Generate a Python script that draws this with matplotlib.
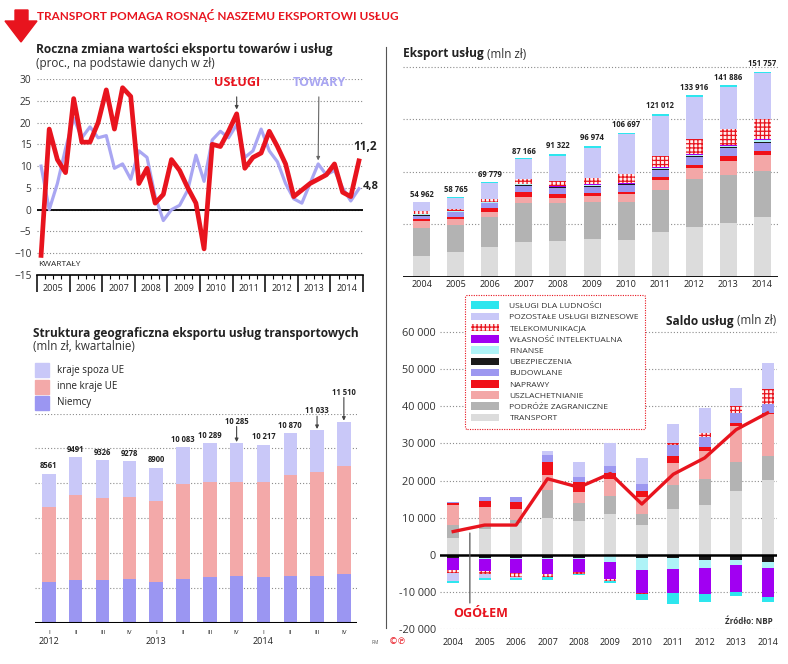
import numpy as np
import matplotlib
matplotlib.use('Agg')
import matplotlib.pyplot as plt
from matplotlib.patches import Patch, Polygon

plt.rcParams['font.family'] = ['Open Sans', 'DejaVu Sans']
plt.rcParams['hatch.linewidth'] = 0.9

# ---------------- data ----------------
# roczna zmiana eksportu, kwartalnie 2005 I - 2014 IV (proc.)
q_years = ['2005', '2006', '2007', '2008', '2009', '2010', '2011', '2012', '2013', '2014']
uslugi = [-10.5, 18.5, 11.5, 8.5, 25.5, 15.5, 15.5, 20, 27.5, 18.5,
          28, 26, 6, 9.5, 1.5, 3.5, 11.5, 9, 5, 1.5,
          -9, 15, 14.5, 18, 22, 9.5, 12, 13, 18, 14.5,
          10.5, 3, 4.5, 6, 7, 8, 10.5, 4, 3, 11.2]
towary = [10, 0, 6, 14, 21, 16.5, 19, 16.5, 17, 9.5,
          10.5, 7, 13.5, 12, 3, -2.5, 0, 1, 4.5, 12.5,
          6.5, 16, 18, 16.5, 19.5, 12, 13.5, 18.5, 13.5, 11,
          6, 2.5, 1.5, 6, 10.5, 8, 9, 5, 2, 4.8]

# eksport uslug (mln zl), 2004-2014
years = ['2004', '2005', '2006', '2007', '2008', '2009', '2010', '2011', '2012', '2013', '2014']
categories = ['TRANSPORT', 'PODRÓŻE ZAGRANICZNE', 'USZLACHETNIANIE', 'NAPRAWY', 'BUDOWLANE',
              'UBEZPIECZENIA', 'FINANSE', 'WŁASNOŚĆ INTELEKTUALNA', 'TELEKOMUNIKACJA',
              'POZOSTAŁE USŁUGI BIZNESOWE', 'USŁUGI DLA LUDNOŚCI']
exp_transport = [15300, 18000, 21900, 25900, 26400, 27600, 27100, 33300, 37000, 39900, 44400]
exp_podroze = [20500, 20200, 22400, 28800, 28300, 27400, 28300, 30800, 35000, 35200, 33800]
exp_uszl = [5700, 4200, 3700, 3900, 3200, 4700, 5700, 7400, 8600, 10600, 11800]
exp_naprawy = [1200, 1700, 2500, 3900, 3200, 2500, 1700, 2500, 2000, 3500, 3200]
exp_budowlane = [2500, 3500, 3700, 4900, 4200, 4400, 4700, 4900, 5700, 5700, 5400]
exp_ubezp = [500, 500, 500, 600, 700, 800, 800, 1000, 1000, 1200, 1200]
exp_finanse = [300, 300, 300, 400, 400, 500, 600, 700, 800, 800, 1000]
exp_wlasnosc = [500, 300, 300, 500, 400, 500, 600, 800, 800, 800, 800]
exp_telekom = [2200, 1700, 2200, 3000, 3700, 4400, 6200, 7900, 10600, 11600, 14800]
exp_pozostale = [6200, 8100, 11800, 14800, 19000, 22700, 29600, 29800, 31300, 31100, 34000]
exp_ludnosc = [500, 500, 1000, 1000, 1200, 1200, 1200, 1500, 1500, 1500, 1200]
exp_totals = [54962, 58765, 69779, 87166, 91322, 96974, 106697, 121012, 133916, 141886, 151757]

# saldo uslug (mln zl), 2004-2014
sal_transport = [4500, 7000, 8500, 10000, 9100, 10900, 8100, 12400, 13400, 17200, 20100]
sal_podroze = [3600, 1000, 900, 7600, 5000, 5000, 2900, 6400, 6900, 7700, 6400]
sal_uszl = [5400, 5000, 3000, 3800, 2900, 4400, 4700, 6000, 7600, 9800, 11300]
sal_naprawy = [450, 1600, 1800, 3700, 2700, 1800, 1600, 1800, 1200, 700, 300]
sal_budowlane = [350, 1100, 1500, 1800, 1300, 1800, 1700, 3000, 2700, 2700, 2600]
sal_ubezp = [-700, -700, -900, -700, -700, -400, -900, -700, -1300, -1300, -1800]
sal_finanse = [-200, -300, -200, -300, -300, -1600, -3000, -3100, -2200, -1300, -1600]
sal_wlasnosc = [-3100, -3300, -3800, -4000, -3600, -4500, -6300, -6400, -6900, -7300, -8000]
sal_telekom = [-900, -900, -1000, -900, -500, -400, -300, 400, 1100, 2000, 4000]
sal_pozostale = [-2000, -900, -400, 1100, 4000, 6300, 7200, 5200, 6500, 4900, 6800]
sal_ludnosc = [-600, -700, -300, -800, -400, -700, -1600, -2900, -2200, -1000, -1300]
ogolem = [6300, 8050, 8050, 20500, 18200, 21900, 13700, 21700, 26100, 33700, 38200]

# struktura geograficzna eksportu uslug transportowych (mln zl, kwartalnie)
geo_quarters = ['I', 'II', 'III', 'IV'] * 3
geo_years = ['2012', '2013', '2014']
niemcy = [2350, 2480, 2460, 2500, 2330, 2500, 2620, 2710, 2620, 2710, 2710, 2830]
inne_ue = [4280, 4840, 4700, 4700, 4680, 5450, 5480, 5390, 5460, 5790, 5920, 6190]
spoza_ue = [1930, 2170, 2170, 2080, 1890, 2130, 2190, 2190, 2140, 2370, 2400, 2490]
geo_totals = [8561, 9491, 9326, 9278, 8900, 10083, 10289, 10285, 10217, 10870, 11033, 11510]

# ---------------- style ----------------
W, H = 788, 664
RED = '#e8141e'
LAV = '#a9a6f2'
GRIDC = '#8c8c8c'
DOT = (0, (1, 1.8))
TXT = '#222222'
cat_colors = ['#dcdcdc', '#b3b3b3', '#f3a7a7', '#f01018', '#9d98f0', '#1a1a1a',
              '#aef3f7', '#a100f2', '#fff0f0', '#c9c8f8', '#2ee6ee']
cat_hatch = [None] * 8 + ['++++', None, None]
TITLE_FS = 8.6
SUB_FS = 8.4

fig = plt.figure(figsize=(W / 100, H / 100), dpi=100)
fig.patch.set_facecolor('white')


def px_axes(l, t, r, b):
    return fig.add_axes([l / W, 1 - b / H, (r - l) / W, (b - t) / H])


def ftext(x, y, s, **kw):
    return fig.text(x / W, 1 - y / H, s, **kw)


def fmt(v):
    return f'{v:,}'.replace(',', ' ')


def stack(ax, x, series, width):
    pos = np.zeros(len(x))
    neg = np.zeros(len(x))
    for vals, c, h in zip(series, cat_colors, cat_hatch):
        v = np.asarray(vals, float)
        bottom = np.where(v >= 0, pos, neg)
        if h:
            ax.bar(x, v, width, bottom=bottom, color=c, edgecolor=RED, hatch=h, lw=0, zorder=2)
        else:
            ax.bar(x, v, width, bottom=bottom, color=c, lw=0, zorder=2)
        pos += np.clip(v, 0, None)
        neg += np.clip(v, None, 0)


renderer = fig.canvas.get_renderer()

# ---------------- header ----------------
fig.patches.append(Polygon([(15 / W, 1 - 10 / H), (28 / W, 1 - 10 / H), (28 / W, 1 - 21 / H),
                            (37 / W, 1 - 21 / H), (21 / W, 1 - 42 / H), (5 / W, 1 - 21 / H),
                            (15 / W, 1 - 21 / H)], closed=True, color=RED,
                           transform=fig.transFigure))
ftext(37, 16, 'TRANSPORT POMAGA ROSNĄĆ NASZEMU EKSPORTOWI USŁUG', color=RED,
      fontsize=8.5, fontweight='bold', va='center', family=['Lato', 'DejaVu Sans'])
fig.add_artist(plt.Line2D([386 / W, 386 / W], [1 - 47 / H, 1 - 628 / H], color='#555555', lw=0.8))

# ---------------- line chart ----------------
ftext(36, 50, 'Roczna zmiana wartości eksportu towarów i usług', fontsize=TITLE_FS,
      fontweight='bold', va='center', color=TXT)
ftext(36, 64, '(proc., na podstawie danych w zł)', fontsize=SUB_FS, va='center', color='#333333')

ax1 = px_axes(37, 79, 363, 275)
ax1.set_xlim(0, 40)
ax1.set_ylim(-15, 30)
xq = np.arange(len(uslugi)) + 0.5
ax1.plot(xq, towary, color=LAV, lw=2.3, zorder=3)
ax1.plot(xq, uslugi, color=RED, lw=3.4, zorder=4)
ax1.axhline(0, color='black', lw=1.3, zorder=2)
ax1.set_yticks(range(-15, 31, 5))
ax1.yaxis.grid(True, linestyle=DOT, color=GRIDC, lw=0.8)
ax1.set_axisbelow(True)
ax1.tick_params(axis='y', length=0, pad=4, labelsize=7.3, labelcolor='#333333')
for s in ['left', 'right', 'top']:
    ax1.spines[s].set_visible(False)
ax1.spines['bottom'].set_linewidth(1.2)
ax1.set_xticks(range(0, 41, 4))
ax1.set_xticks(range(0, 41), minor=True)
ax1.set_xticklabels([])
ax1.tick_params(axis='x', which='major', length=12, width=1.1, direction='out')
ax1.tick_params(axis='x', which='minor', length=3, width=0.8, direction='out')
for k, y in enumerate(q_years):
    ax1.annotate(y, xy=(4 * k + 2, 0), xycoords=('data', 'axes fraction'), xytext=(0, -10),
                 textcoords='offset points', ha='center', va='center', fontsize=6.5, color=TXT)
ax1.text(0.1, -12.7, 'KWARTAŁY', fontsize=6, color=TXT, va='center')
ax1.annotate('USŁUGI', xy=(24.5, 23), xytext=(24.5, 29.3), ha='center', va='center', color=RED,
             fontsize=9, fontweight='bold',
             arrowprops=dict(arrowstyle='-|>', color='#444444', lw=0.8, mutation_scale=5,
                             shrinkA=4, shrinkB=0))
ax1.annotate('TOWARY', xy=(34.5, 11.3), xytext=(34.6, 29.3), ha='center', va='center', color=LAV,
             fontsize=9, fontweight='bold',
             arrowprops=dict(arrowstyle='-|>', color='#666666', lw=0.8, mutation_scale=5,
                             shrinkA=4, shrinkB=0))
ax1.text(40.2, 14.4, fmt(uslugi[-1]).replace('.', ','), fontsize=8.5, fontweight='bold',
         ha='center', va='center', color=TXT)
ax1.text(40.0, 5.4, fmt(towary[-1]).replace('.', ','), fontsize=8, fontweight='bold',
         ha='left', va='center', color=TXT)

# ---------------- export chart ----------------
t = ftext(403, 54, 'Eksport usług', fontsize=TITLE_FS, fontweight='bold', va='center', color=TXT)
bb = t.get_window_extent(renderer=renderer)
ftext(bb.x1 + 3, 54, '(mln zł)', fontsize=SUB_FS, va='center', color='#333333')

exp_series = [exp_transport, exp_podroze, exp_uszl, exp_naprawy, exp_budowlane, exp_ubezp,
              exp_finanse, exp_wlasnosc, exp_telekom, exp_pozostale, exp_ludnosc]
ax2 = px_axes(403, 60.3, 778, 276.7)
xe = np.arange(len(years))
stack(ax2, xe, exp_series, 0.5)
ax2.set_xlim(-0.55, 10.46)
ax2.set_ylim(0, 160000)
ax2.set_yticks([38750, 77500, 116250, 155000])
ax2.yaxis.grid(True, linestyle=DOT, color=GRIDC, lw=0.8)
ax2.set_axisbelow(True)
ax2.tick_params(axis='y', length=0, labelleft=False)
ax2.set_xticks(xe)
ax2.set_xticklabels(years, fontsize=6.5, color=TXT)
ax2.tick_params(axis='x', length=0, pad=2.5)
for s in ax2.spines.values():
    s.set_visible(False)
ax2.axhline(0, color='black', lw=2, zorder=3)
for i, tot in enumerate(exp_totals):
    ax2.annotate(fmt(tot), xy=(i, tot), xytext=(0, 5.5), textcoords='offset points',
                 ha='center', va='center', fontsize=5.5, fontweight='bold', color=TXT)

# ---------------- geo structure chart ----------------
ftext(33, 333, 'Struktura geograficzna eksportu usług transportowych', fontsize=TITLE_FS,
      fontweight='bold', va='center', color=TXT)
ftext(33, 346, '(mln zł, kwartalnie)', fontsize=SUB_FS, va='center', color='#333333')

ax3 = px_axes(35, 413.5, 357, 623)
xg = np.arange(len(niemcy))
geo_cols = ['#9b96f2', '#f3a9a9', '#c9c8f8']
ax3.bar(xg, niemcy, 0.5, color=geo_cols[0], lw=0, zorder=2)
ax3.bar(xg, inne_ue, 0.5, bottom=niemcy, color=geo_cols[1], lw=0, zorder=2)
ax3.bar(xg, spoza_ue, 0.5, bottom=np.add(niemcy, inne_ue), color=geo_cols[2], lw=0, zorder=2)
ax3.set_xlim(-0.52, 11.49)
ax3.set_ylim(0, 12000)
ax3.set_yticks(range(2000, 12001, 2000))
ax3.yaxis.grid(True, linestyle=DOT, color=GRIDC, lw=0.8)
ax3.set_axisbelow(True)
ax3.tick_params(axis='y', length=0, labelleft=False)
ax3.set_xticks(xg)
ax3.set_xticklabels(geo_quarters, fontsize=4.5, color=TXT)
ax3.tick_params(axis='x', length=0, pad=5)
for s in ax3.spines.values():
    s.set_visible(False)
ax3.axhline(0, color='black', lw=2.2, zorder=3)
for k, y in enumerate(geo_years):
    ax3.annotate(y, xy=(4 * k, 0), xycoords=('data', 'axes fraction'), xytext=(0, -13.5),
                 textcoords='offset points', ha='center', va='center', fontsize=6.5, color=TXT)
arrow_off = {7: 16, 10: 14, 11: 21.5}
for i, tot in enumerate(geo_totals):
    off = arrow_off.get(i, 5.5)
    ax3.annotate(fmt(tot) if tot >= 10000 else str(tot), xy=(i, tot), xytext=(0, off),
                 textcoords='offset points', ha='center', va='center', fontsize=5.5,
                 fontweight='bold', color=TXT)
    if i in arrow_off:
        ax3.annotate('', xy=(i, tot), xytext=(0, off - 3.8), textcoords='offset points',
                     arrowprops=dict(arrowstyle='-|>', color='#444444', lw=0.8,
                                     mutation_scale=5, shrinkA=0, shrinkB=1))
geo_labels = ['kraje spoza UE', 'inne kraje UE', 'Niemcy']
for j, (lab, c) in enumerate(zip(geo_labels, geo_cols[::-1])):
    yc = 370 + 16.5 * j
    fig.patches.append(plt.Rectangle((35 / W, 1 - (yc + 7) / H), 14 / W, 14 / H, color=c,
                                     transform=fig.transFigure))
    ftext(57, yc, lab, fontsize=7, va='center', color=TXT)
ftext(372, 642, 'RM', fontsize=3.5, va='center', color='#555555')
ftext(389, 641, '©℗', fontsize=6.5, va='center', color=RED, family='DejaVu Sans')

# ---------------- saldo chart ----------------
sal_series = [sal_transport, sal_podroze, sal_uszl, sal_naprawy, sal_budowlane, sal_ubezp,
              sal_finanse, sal_wlasnosc, sal_telekom, sal_pozostale, sal_ludnosc]
ax4 = px_axes(440, 313.2, 777, 629.4)
stack(ax4, xe, sal_series, 0.38)
ax4.plot(xe, ogolem, color=RED, lw=2.4, zorder=5)
ax4.set_xlim(-0.42, 10.3)
ax4.set_ylim(-20000, 65000)
yt = list(range(-20000, 60001, 10000))
ax4.set_yticks(yt)
ax4.set_yticklabels([fmt(v) for v in yt], fontsize=7.8, color='#333333')
ax4.yaxis.grid(True, linestyle=DOT, color=GRIDC, lw=0.8)
ax4.set_axisbelow(True)
ax4.tick_params(axis='y', length=0, pad=3)
ax4.set_xticks(xe)
ax4.set_xticklabels(years, fontsize=6.5, color=TXT)
ax4.tick_params(axis='x', length=0, pad=6)
for s in ax4.spines.values():
    s.set_visible(False)
ax4.axhline(0, color='black', lw=1.8, zorder=3)
ax4.annotate('', xy=(0.53, 5900), xytext=(0.53, -12900),
             arrowprops=dict(arrowstyle='-', color='#555555', lw=0.9, shrinkA=0, shrinkB=0))
ax4.text(0.88, -15600, 'OGÓŁEM', color=RED, fontsize=9, fontweight='bold', ha='center', va='center')

handles = [Patch(facecolor=c, edgecolor=(RED if h else c), hatch=h, lw=0)
           for c, h in zip(cat_colors, cat_hatch)][::-1]
leg = ax4.legend(handles, categories[::-1], loc='upper left',
                 bbox_to_anchor=(465 / W, 1 - 295 / H), bbox_transform=fig.transFigure,
                 fontsize=6.1, handlelength=3.3, handleheight=1.0, handletextpad=1.2,
                 labelspacing=0.3, borderpad=0.75, borderaxespad=0, fancybox=True,
                 framealpha=1)
for txt in leg.get_texts():
    txt.set_color('#333333')
fr = leg.get_frame()
fr.set_edgecolor(RED)
fr.set_linestyle((0, (1, 1.2)))
fr.set_linewidth(0.8)
leg.set_zorder(10)

t = ftext(776, 321, '(mln zł)', fontsize=SUB_FS, va='center', ha='right', color='#333333')
bb = t.get_window_extent(renderer=renderer)
ftext(bb.x0 - 3, 321, 'Saldo usług', fontsize=TITLE_FS, fontweight='bold', va='center', ha='right',
      color=TXT)
ftext(773, 622, 'Źródło: NBP', fontsize=5.8, fontweight='bold', va='center', ha='right', color='#333333')

fig.savefig('out.png', dpi=100)
